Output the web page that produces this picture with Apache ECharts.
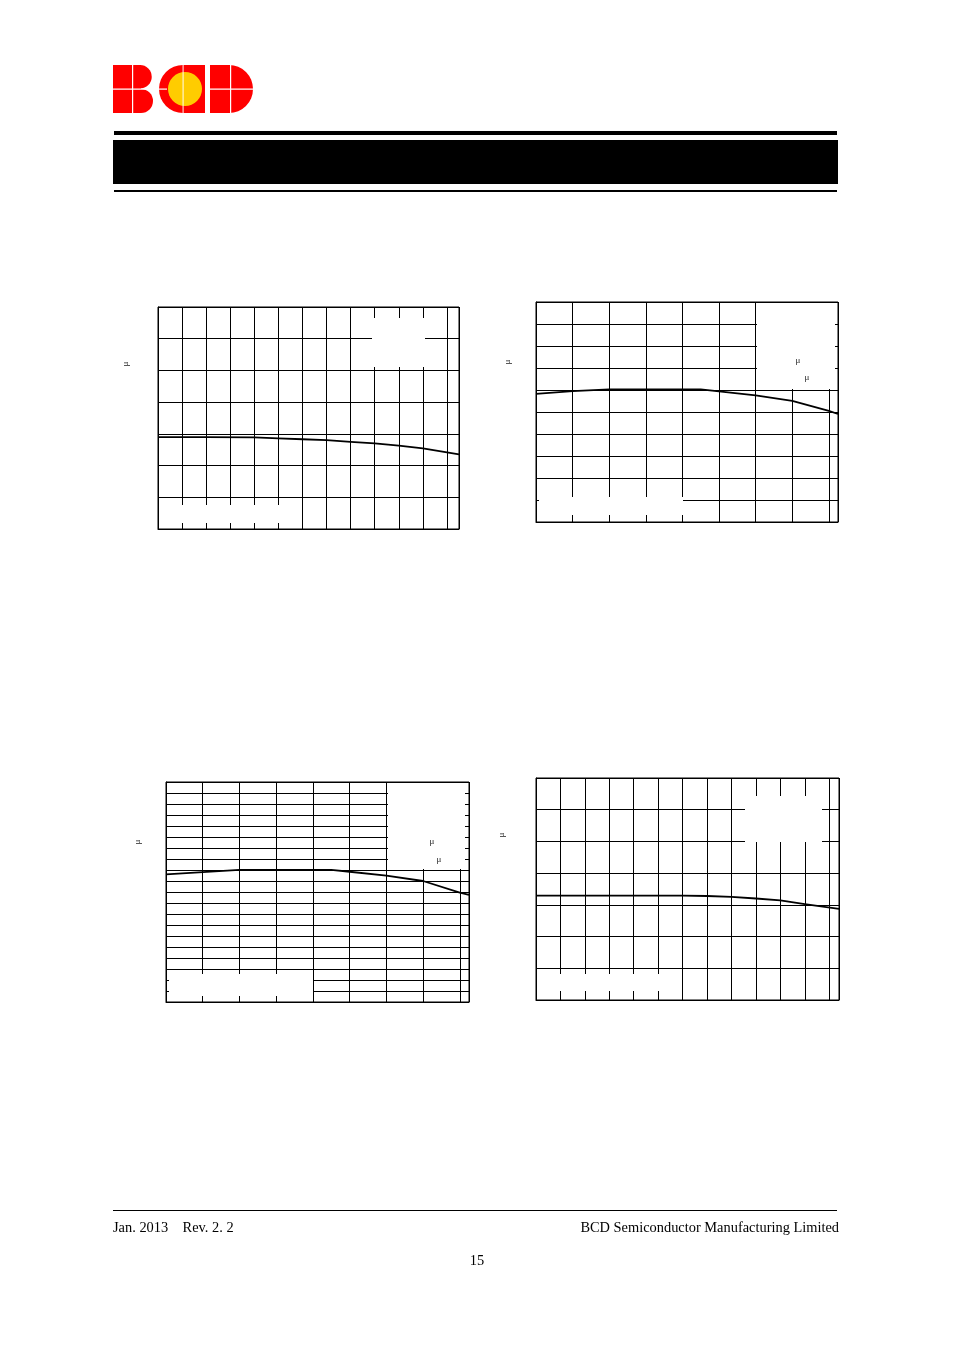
<!DOCTYPE html>
<html><head><meta charset="utf-8">
<script src="https://cdn.jsdelivr.net/npm/echarts@6/dist/echarts.min.js"></script>
<style>html,body{margin:0;padding:0;background:#fff}#c{width:954px;height:1350px}</style>
</head><body><div id="c"></div>
<script>
// ---- data (axis labels are not visible in the reference) ----
const chart1X = [0, 2, 4, 5, 6, 7, 8, 9, 10, 11, 12.5];
const chart1Y = [2.90, 2.90, 2.89, 2.86, 2.83, 2.80, 2.75, 2.70, 2.63, 2.54, 2.35];
const chart2X = [0, 1, 2, 3, 4, 4.5, 5, 6, 7, 8, 8.25];
const chart2Y = [5.82, 5.95, 6.03, 6.03, 6.03, 6.03, 5.94, 5.76, 5.51, 5.05, 4.91];
const chart3X = [0, 1, 2, 3, 4, 4.5, 5, 6, 7, 8, 8.25];
const chart3Y = [11.60, 11.81, 12.02, 12.02, 12.02, 12.02, 11.84, 11.48, 11.00, 9.94, 9.73];
const chart4X = [0, 5, 6, 7, 8, 9, 10, 11, 12.4];
const chart4Y = [3.29, 3.29, 3.29, 3.28, 3.25, 3.20, 3.14, 3.02, 2.87];
const xMaxes = [12.5, 8.25, 8.25, 12.4];
const yMaxes = [7, 10, 20, 7];
const yAxisNames = ['μ', 'μ', 'μ', 'μ'];
const legendMu = ['μ', 'μ'];
const footerLeft = 'Jan. 2013    Rev. 2. 2';
const footerRight = 'BCD Semiconductor Manufacturing Limited';
const pageNo = '15';

const xs = [chart1X, chart2X, chart3X, chart4X];
const ys = [chart1Y, chart2Y, chart3Y, chart4Y];
const gridBoxes = [
  {left: 158, top: 307, width: 301, height: 222},
  {left: 536, top: 302, width: 302, height: 220},
  {left: 166, top: 782, width: 303, height: 220},
  {left: 536, top: 778, width: 303, height: 222}
];

const black = '#000';
const grids = [], xAxes = [], yAxes = [], series = [];
for (let i = 0; i < 4; i++) {
  grids.push(Object.assign({show: true, borderColor: black, borderWidth: 1, backgroundColor: 'transparent', containLabel: false}, gridBoxes[i]));
  xAxes.push({type: 'value', gridIndex: i, min: 0, max: xMaxes[i], interval: 1,
    axisLine: {show: true, lineStyle: {color: black, width: 1}}, axisTick: {show: false}, axisLabel: {show: false},
    splitLine: {show: true, lineStyle: {color: black, width: 1}}});
  yAxes.push({type: 'value', gridIndex: i, min: 0, max: yMaxes[i], interval: 1,
    axisLine: {show: true, lineStyle: {color: black, width: 1}}, axisTick: {show: false}, axisLabel: {show: false},
    splitLine: {show: true, lineStyle: {color: black, width: 1}}});
  series.push({type: 'line', xAxisIndex: i, yAxisIndex: i, z: 5, symbol: 'none', smooth: false,
    lineStyle: {color: black, width: 1.8, join: 'round'}, data: xs[i].map((x, k) => [x, ys[i][k]]), animation: false});
}

const serif = "'Liberation Serif','DejaVu Serif',serif";
const white = '#fff';
const red = '#ff0000';
const PI = Math.PI;
const graphics = [
  // header bars
  {type: 'rect', shape: {x: 114, y: 131, width: 723, height: 4}, style: {fill: black}},
  {type: 'rect', shape: {x: 113, y: 140, width: 725, height: 44}, style: {fill: black}},
  {type: 'rect', shape: {x: 114, y: 190, width: 723, height: 2}, style: {fill: black}},
  // logo B
  {type: 'rect', shape: {x: 113, y: 65, width: 28, height: 48}, style: {fill: red}},
  {type: 'sector', shape: {cx: 140, cy: 76.75, r: 11.75, r0: 0, startAngle: -PI / 2, endAngle: PI / 2, clockwise: true}, style: {fill: red}},
  {type: 'sector', shape: {cx: 141, cy: 101, r: 12, r0: 0, startAngle: -PI / 2, endAngle: PI / 2, clockwise: true}, style: {fill: red}},
  // logo C
  {type: 'sector', shape: {cx: 183, cy: 89, r: 24, r0: 0, startAngle: PI / 2, endAngle: 3 * PI / 2, clockwise: true}, style: {fill: red}},
  {type: 'rect', shape: {x: 182.5, y: 65, width: 22.5, height: 48}, style: {fill: red}},
  {type: 'circle', shape: {cx: 185, cy: 89, r: 17}, style: {fill: '#ffcc00'}},
  // logo D
  {type: 'rect', shape: {x: 210, y: 65, width: 20, height: 48}, style: {fill: red}},
  {type: 'sector', shape: {cx: 229, cy: 89, r: 24, r0: 0, startAngle: -PI / 2, endAngle: PI / 2, clockwise: true}, style: {fill: red}},
  // white dividing lines in logo
  {type: 'rect', shape: {x: 132, y: 64, width: 1.2, height: 50}, style: {fill: white}},
  {type: 'rect', shape: {x: 112, y: 88.5, width: 44, height: 1.2}, style: {fill: white}},
  {type: 'rect', shape: {x: 182.5, y: 64, width: 1.2, height: 50}, style: {fill: white, opacity: 0.8}},
  {type: 'rect', shape: {x: 158, y: 88.5, width: 9, height: 1.2}, style: {fill: white}},
  {type: 'rect', shape: {x: 230, y: 64, width: 1.2, height: 50}, style: {fill: white}},
  {type: 'rect', shape: {x: 209, y: 88.5, width: 46, height: 1.2}, style: {fill: white}},
  // white legend/label boxes covering grid lines
  {type: 'rect', z: 1, shape: {x: 372, y: 318, width: 53, height: 49}, style: {fill: white}},
  {type: 'rect', z: 1, shape: {x: 161, y: 505, width: 141, height: 18}, style: {fill: white}},
  {type: 'rect', z: 1, shape: {x: 757, y: 303, width: 78, height: 86}, style: {fill: white}},
  {type: 'rect', z: 1, shape: {x: 539, y: 497, width: 144, height: 18}, style: {fill: white}},
  {type: 'rect', z: 1, shape: {x: 388, y: 783, width: 77, height: 86}, style: {fill: white}},
  {type: 'rect', z: 1, shape: {x: 169, y: 974, width: 144, height: 22}, style: {fill: white}},
  {type: 'rect', z: 1, shape: {x: 745, y: 796, width: 77, height: 46}, style: {fill: white}},
  {type: 'rect', z: 1, shape: {x: 539, y: 974, width: 142, height: 17}, style: {fill: white}},
  // footer line
  {type: 'rect', shape: {x: 113, y: 1210, width: 724, height: 1}, style: {fill: black}}
];
// rotated y-axis unit labels
const yNamePos = [[126, 364], [508, 362], [138, 842], [502, 835]];
yNamePos.forEach((p, i) => graphics.push({type: 'text', z: 10, x: p[0], y: p[1], rotation: PI / 2,
  style: {text: yAxisNames[i], x: 0, y: 0, align: 'center', verticalAlign: 'middle', font: '9px ' + serif, fill: '#222'}}));
// legend μ labels
[[[798, 361], [807, 378]], [[432, 842], [439, 860]]].forEach(pair => pair.forEach((p, k) => graphics.push({type: 'text', z: 10,
  style: {text: legendMu[k], x: p[0], y: p[1], align: 'center', verticalAlign: 'middle', font: '9px ' + serif, fill: '#222'}})));
// footer text
graphics.push({type: 'text', style: {text: footerLeft, x: 113, y: 1228.5, align: 'left', verticalAlign: 'middle', font: '14.4px ' + serif, fill: black}});
graphics.push({type: 'text', style: {text: footerRight, x: 839, y: 1228.5, align: 'right', verticalAlign: 'middle', font: '14.4px ' + serif, fill: black}});
graphics.push({type: 'text', style: {text: pageNo, x: 477, y: 1261.5, align: 'center', verticalAlign: 'middle', font: '14.4px ' + serif, fill: black}});

const chart = echarts.init(document.getElementById('c'), null, {renderer: 'canvas'});
chart.setOption({
  animation: false,
  backgroundColor: '#fff',
  grid: grids, xAxis: xAxes, yAxis: yAxes, series: series,
  graphic: {elements: graphics}
});
</script></body></html>
